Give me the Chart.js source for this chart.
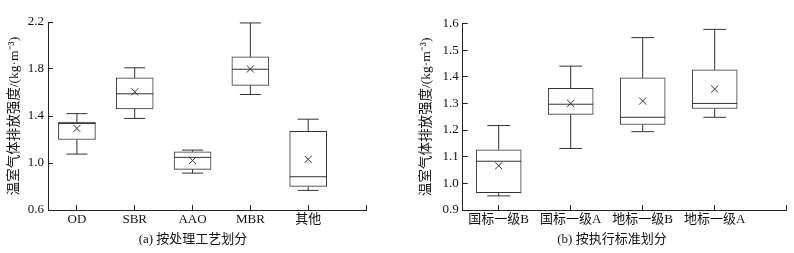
<!DOCTYPE html>
<html><head><meta charset="utf-8">
<script src="https://cdn.jsdelivr.net/npm/chart.js@4"></script>
<style>
html,body{margin:0;padding:0;background:#fff;overflow:hidden;width:794px;height:253px;}
canvas{position:absolute;top:0;}
#cA{left:0;} #cB{left:400px;}
</style></head><body>
<canvas id="cA" width="386" height="253"></canvas>
<canvas id="cB" width="424" height="253"></canvas>
<script>
// ---- Panel (a): by treatment process ----
const catsA  = ['OD', 'SBR', 'AAO', 'MBR', '其他'];
const minA   = [1.076, 1.379, 0.914, 1.583, 0.767];
const q1A    = [1.200, 1.461, 0.946, 1.660, 0.801];
const medA   = [1.336, 1.589, 1.048, 1.798, 0.883];
const q3A    = [1.348, 1.725, 1.096, 1.903, 1.269];
const maxA   = [1.420, 1.810, 1.110, 2.192, 1.373];
const meanA  = [1.294, 1.606, 1.022, 1.800, 1.031];
const yTicksA = [0.6, 1.0, 1.4, 1.8, 2.2];

// ---- Panel (b): by discharge standard ----
const catsB  = ['国标一级B', '国标一级A', '地标一级B', '地标一级A'];
const minB   = [0.953, 1.131, 1.194, 1.248];
const q1B    = [0.965, 1.259, 1.221, 1.281];
const medB   = [1.083, 1.297, 1.248, 1.300];
const q3B    = [1.126, 1.357, 1.396, 1.426];
const maxB   = [1.217, 1.440, 1.547, 1.578];
const meanB  = [1.066, 1.300, 1.309, 1.354];
const yTicksB = [0.9, 1.0, 1.1, 1.2, 1.3, 1.4, 1.5, 1.6];

const yTitle = '温室气体排放强度/(kg·m⁻³)';
const captionA = '(a) 按处理工艺划分';
const captionB = '(b) 按执行标准划分';

const FONT = "'Liberation Serif','Noto Sans CJK SC',serif";
const LINE = '#333';
const AX = '#222';
const TXT = '#111';

function build(id, cats, mins, q1s, meds, q3s, maxs, means, yTicks, caption, geo) {
  const n = cats.length;
  const idx = cats.map((_, i) => i);
  const whisk = [];
  idx.forEach(i => {
    whisk.push({x:i, y:mins[i]}, {x:i, y:q1s[i]}, {x:i, y:null},
               {x:i, y:q3s[i]}, {x:i, y:maxs[i]}, {x:i, y:null});
  });
  const caps = idx.flatMap(i => [{x:i, y:mins[i]}, {x:i, y:maxs[i]}]);
  const font = {family: FONT, size: 13, weight: 'normal'};
  new Chart(document.getElementById(id), {
    type: 'bar',
    data: { datasets: [
      {type:'scatter', xAxisID:'x', yAxisID:'y', data: means.map((v,i)=>({x:i,y:v})),
       pointStyle:'crossRot', pointRadius:geo.mean, borderColor:LINE, backgroundColor:LINE, borderWidth:1},
      {type:'scatter', xAxisID:'x', yAxisID:'y', data: meds.map((v,i)=>({x:i,y:v})),
       pointStyle:'line', pointRadius:geo.box/2, borderColor:LINE, borderWidth:1},
      {type:'scatter', xAxisID:'x', yAxisID:'y', data: caps,
       pointStyle:'line', pointRadius:geo.cap/2, borderColor:LINE, borderWidth:1},
      {type:'line', xAxisID:'x', yAxisID:'y', data: whisk, pointRadius:0, borderColor:LINE,
       borderWidth:1, spanGaps:false, tension:0, fill:false},
      {type:'bar', xAxisID:'x', yAxisID:'y', data: idx.map(i=>({x:i, y:[q1s[i], q3s[i]]})),
       barThickness:geo.box, backgroundColor:'rgba(255,255,255,1)', borderColor:LINE,
       borderWidth:1, borderSkipped:false, grouped:false}
    ]},
    options: {
      responsive:false, animation:false, events:[],
      layout:{padding:{top:geo.top, left:0, right:0, bottom:0}},
      plugins:{
        legend:{display:false}, tooltip:{enabled:false},
        title:{display:true, position:'bottom', text:caption, font:font, color:TXT,
               padding:{top:0, bottom:5.2}}
      },
      scales:{
        x:{type:'linear', min:-0.5, max:n, offset:false,
           afterBuildTicks:s=>{ s.ticks = idx.concat([n]).map(v=>({value:v})); },
           afterFit:s=>{ s.height = geo.xh; },
           ticks:{callback:v=>(cats[v] !== undefined ? cats[v] : ''), autoSkip:false, maxRotation:0,
                  padding:7, font:font, color:TXT},
           grid:{drawOnChartArea:false, tickLength:-5, color:AX, offset:false},
           border:{color:AX, width:1}},
        y:{type:'linear', position:'left', min:yTicks[0], max:yTicks[yTicks.length-1],
           afterBuildTicks:s=>{ s.ticks = yTicks.map(v=>({value:v})); },
           afterFit:s=>{ s.width = geo.yw; },
           ticks:{callback:v=>Number(v).toFixed(1), padding:9, font:font, color:TXT},
           grid:{drawOnChartArea:false, tickLength:-5, color:AX},
           border:{color:AX, width:1},
           title:{display:true, text:yTitle, font:{family:FONT, size:13.5, weight:'normal'}, color:TXT,
                  padding:{top:geo.tp, bottom:0}}},
        yr:{type:'linear', position:'right', display:true, grid:{display:false},
            border:{display:false}, ticks:{display:false},
            afterFit:s=>{ s.width = geo.rw; }}
      }
    }
  });
}

build('cA', catsA, minA, q1A, medA, q3A, maxA, meanA, yTicksA, captionA,
      {yw:48, rw:20, top:22, tp:6.6, box:37, cap:21, mean:5, xh:22.2});
build('cB', catsB, minB, q1B, medB, q3B, maxB, meanB, yTicksB, captionB,
      {yw:62.7, rw:37.3, top:20, tp:18.6, box:45, cap:22.7, mean:5, xh:22.2});
</script>
</body></html>
